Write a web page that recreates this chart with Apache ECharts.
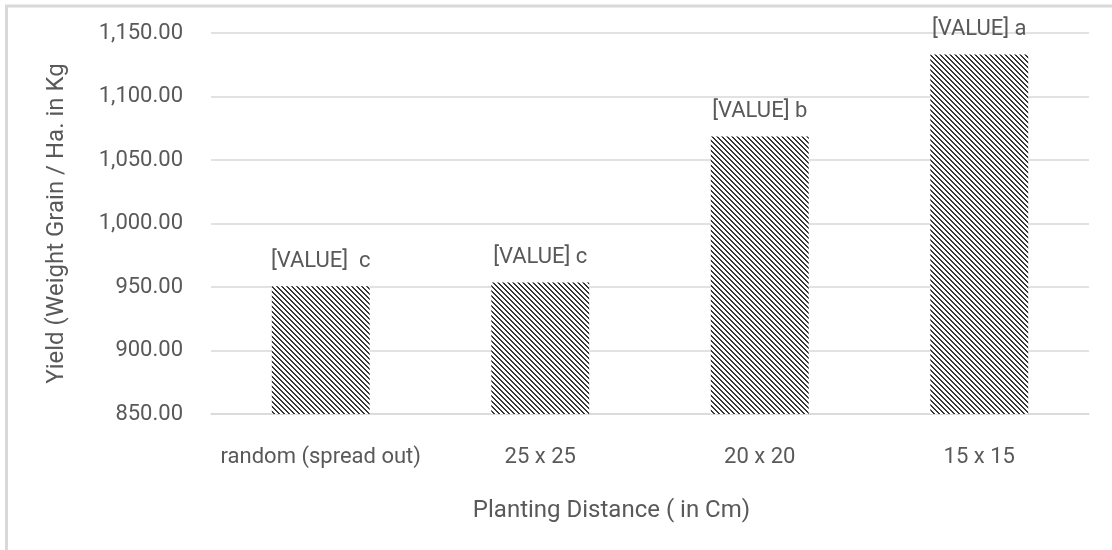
<!DOCTYPE html>
<html>
<head>
<meta charset="utf-8">
<script src="https://cdn.jsdelivr.net/npm/echarts@6/dist/echarts.min.js"></script>
<style>
  html, body { margin: 0; padding: 0; background: #fff; }
  #main { width: 1112px; height: 550px; }
</style>
</head>
<body>
<div id="main"></div>
<script>
// chart data
var categories = ['random (spread out)', '25 x 25', '20 x 20', '15 x 15'];
var yieldValues = [950.5, 953.5, 1068.5, 1133];
var barLabels = ['[VALUE]  c', '[VALUE] c', '[VALUE] b', '[VALUE] a'];
var yTicks = [850, 900, 950, 1000, 1050, 1100, 1150];

var textColor = '#595959';
var fontFamily = 'Roboto';

// hatched fill like excel's downward diagonal pattern
function makeHatch() {
    var n = 5;
    var c = document.createElement('canvas');
    c.width = n;
    c.height = n;
    var ctx = c.getContext('2d');
    var img = ctx.createImageData(n, n);
    for (var y = 0; y < n; y++) {
        for (var x = 0; x < n; x++) {
            var k = ((x - y) % n + n) % n;
            var v = k < 2 ? 55 : 255;
            var i = (y * n + x) * 4;
            img.data[i] = v;
            img.data[i + 1] = v;
            img.data[i + 2] = v;
            img.data[i + 3] = 255;
        }
    }
    ctx.putImageData(img, 0, 0);
    return c;
}

function fmt(v) {
    var s = v.toFixed(2);
    var parts = s.split('.');
    parts[0] = parts[0].replace(/\B(?=(\d{3})+(?!\d))/g, ',');
    return parts.join('.');
}

var chartDom = document.getElementById('main');
var myChart = echarts.init(chartDom);
var option;

option = {
    backgroundColor: '#fff',
    animation: false,
    textStyle: { fontFamily: fontFamily },
    graphic: [{
        type: 'rect',
        shape: { x: 6.5, y: 6, width: 1200, height: 700 },
        style: { fill: 'none', stroke: '#d9d9d9', lineWidth: 3 },
        silent: true
    }],
    grid: {
        left: 211,
        right: 23,
        top: 33,
        bottom: 136
    },
    xAxis: {
        type: 'category',
        data: categories,
        axisTick: { show: false },
        axisLine: { lineStyle: { color: '#d9d9d9', width: 1.5 } },
        axisLabel: {
            interval: 0,
            color: textColor,
            fontSize: 22,
            margin: 32
        },
        name: 'Planting Distance ( in Cm)',
        nameLocation: 'middle',
        nameGap: 85,
        nameTextStyle: {
            color: textColor,
            fontSize: 24,
            padding: [0, 77, 0, 0]
        }
    },
    yAxis: {
        type: 'value',
        min: yTicks[0],
        max: yTicks[yTicks.length - 1],
        interval: 50,
        axisLine: { show: false },
        axisTick: { show: false },
        splitLine: { lineStyle: { color: '#d9d9d9', width: 1.5 } },
        axisLabel: {
            color: textColor,
            fontSize: 22,
            margin: 28,
            formatter: function (v) { return fmt(v); }
        },
        name: 'Yield (Weight Grain / Ha. in Kg',
        nameLocation: 'middle',
        nameGap: 142,
        nameTextStyle: {
            color: textColor,
            fontSize: 24
        }
    },
    series: [{
        type: 'bar',
        data: yieldValues,
        barWidth: '44.6%',
        itemStyle: {
            color: { image: makeHatch(), repeat: 'repeat' }
        },
        label: {
            show: true,
            position: 'top',
            distance: 14,
            color: textColor,
            fontSize: 22,
            formatter: function (p) { return barLabels[p.dataIndex]; }
        }
    }]
};

option && myChart.setOption(option);
</script>
</body>
</html>
